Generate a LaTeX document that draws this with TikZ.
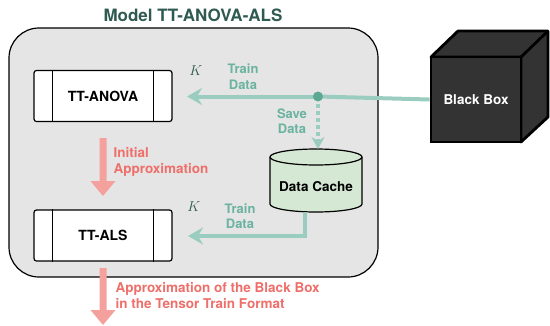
\documentclass[tikz,border=0pt]{standalone}
\usepackage{fontspec}
\setmainfont{TeX Gyre Heros}
\usetikzlibrary{arrows.meta}
\definecolor{titlec}{HTML}{2F5A50}
\definecolor{teal1}{HTML}{9ACCC0}
\definecolor{tealdot}{HTML}{5DA893}
\definecolor{tealtxt}{HTML}{6BB39F}
\definecolor{pinkar}{HTML}{F4A19D}
\definecolor{pinktxt}{HTML}{EE6F6A}
\definecolor{cachef}{HTML}{D5E8D4}
\tikzset{
  modbox/.style={draw=black,line width=1.2pt,fill=white,rounded corners=2.5pt,minimum width=138pt,minimum height=51pt,inner sep=0pt,font=\bfseries\fontsize{14}{16}\selectfont},
  tlabel/.style={text=tealtxt,font=\bfseries\fontsize{13}{15.5}\selectfont,align=center},
  plabel/.style={text=pinktxt,font=\bfseries\fontsize{13.5}{16}\selectfont,align=left,anchor=west},
  tarrow/.style={draw=teal1,line width=4pt,-{Stealth[length=15pt,width=17pt,inset=5pt]}},
  kl/.style={text=titlec,font=\fontsize{15}{17}\selectfont}
}
\begin{document}
\begin{tikzpicture}[x=1pt,y=-1pt]
\useasboundingbox (0,0) rectangle (550,325);
% title
\node[text=titlec,font=\bfseries\fontsize{17}{19}\selectfont] (title) at (193,15) {Model TT-ANOVA-ALS};
% main frame
\draw[line width=1.2pt,fill=black!10,rounded corners=30pt] (9,28) rectangle (378,277);
% boxes
\node[modbox] (anova) at (103,96) {TT-ANOVA};
\draw[line width=1.2pt] ([xshift=19pt]anova.north west) -- ([xshift=19pt]anova.south west);
\draw[line width=1.2pt] ([xshift=-19pt]anova.north east) -- ([xshift=-19pt]anova.south east);
\node[modbox] (als) at (103,235.5) {TT-ALS};
\draw[line width=1.2pt] ([xshift=19pt]als.north west) -- ([xshift=19pt]als.south west);
\draw[line width=1.2pt] ([xshift=-19pt]als.north east) -- ([xshift=-19pt]als.south east);
% black box cube
\coordinate (bbA) at (431,57);
\coordinate (bbB) at (521,57);
\coordinate (bbC) at (521,142);
\filldraw[fill=black!80,draw=black,line width=2.8pt,line join=round] (bbA) -- ++(27,-26) -- ++(90,0) -- ++(0,86) -- (bbC) -- (bbB) -- cycle;
\draw[line width=2.8pt,line join=round] (bbB) -- ++(27,-26);
\node[draw=black,line width=2.8pt,fill=black!80,minimum width=90pt,minimum height=85pt,inner sep=0pt,text=white,font=\bfseries\fontsize{13.5}{15}\selectfont] (bb) at (476,99.5) {Black Box};
% cylinder
\coordinate (ctop) at (316,149);
\coordinate (cbotm) at (316,212);
\filldraw[draw=black,line width=1.2pt,fill=cachef] (270,157) -- (270,204) arc[start angle=180,end angle=360,x radius=46pt,y radius=8pt] -- (362,157) arc[start angle=0,end angle=180,x radius=46pt,y radius=8pt] -- cycle;
\draw[line width=1.2pt] (270,157) arc[start angle=180,end angle=360,x radius=46pt,y radius=8pt];
\node[font=\bfseries\fontsize{13.5}{15}\selectfont] (cache) at (316,187) {Data Cache};
% teal arrows
\coordinate (dot) at (318,96.5);
\coordinate (cbot) at (305,212);
\coordinate (corner) at (305,236);
\coordinate (tip1) at (187,96.5);
\coordinate (tip2) at (188,236);
\draw[draw=teal1,line width=4pt] (bb.west) -- (dot);
\draw[tarrow] (dot) -- (tip1);
\draw[draw=teal1,line width=4pt,dash pattern=on 4pt off 3pt,-{Stealth[length=12pt,width=13pt,inset=4pt]}] (dot) -- (318,149);
\fill[tealdot] (dot) circle (5pt);
\draw[tarrow] (cbot) -- (corner) -- (tip2);
% labels
\node[tlabel] (td1) at (243,76.5) {Train\\Data};
\node[kl] (k1) at (196,71) {$K$};
\node[tlabel] (sd) at (292,121) {Save\\Data};
\node[tlabel] (td2) at (240,216) {Train\\Data};
\node[kl] (k2) at (194,207) {$K$};
% pink arrows
\fill[pinkar] (99.5,138) -- (106.5,138) -- (106.5,181) -- (115.5,181) -- (103,196) -- (90.5,181) -- (99.5,181) -- cycle;
\node[plabel] (ia) at (110,161.5) {Initial\\Approximation};
\fill[pinkar] (99.5,268) -- (106.5,268) -- (106.5,310) -- (115.5,310) -- (103,325) -- (90.5,310) -- (99.5,310) -- cycle;
\node[plabel] (ap) at (112,296) {Approximation of the Black Box\\in the Tensor Train Format};
\end{tikzpicture}
\end{document}
